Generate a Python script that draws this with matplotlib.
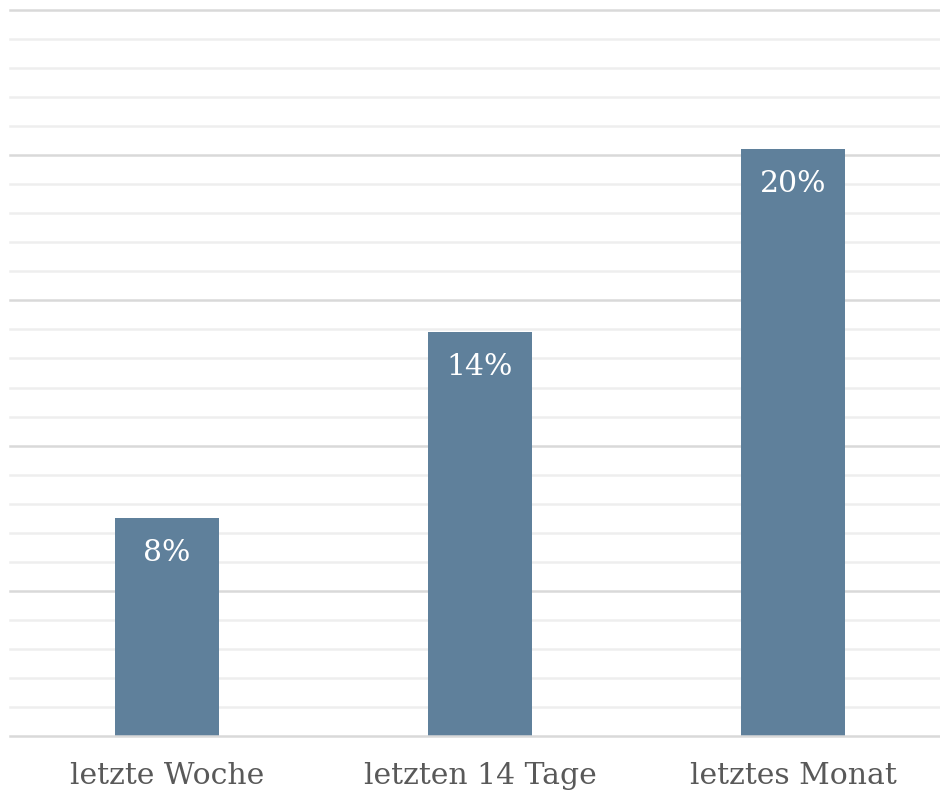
import matplotlib.pyplot as plt
import numpy as np

categories = ["letzte Woche", "letzten 14 Tage", "letztes Monat"]
values = [7.5, 13.9, 20.2]
labels = ["8%", "14%", "20%"]

W, H = 940, 792
fig = plt.figure(figsize=(W / 100, H / 100), dpi=100)
ax = fig.add_axes([10 / W, (H - 736) / H, 930 / W, 726 / H])

x = np.arange(len(categories))
ax.bar(x, values, width=0.333, color="#5f809b", zorder=3)

ax.set_xlim(-157 / 313, 773 / 313)
ax.set_ylim(0, 25)

for yv in range(1, 26):
    major = yv % 5 == 0
    ax.axhline(yv, color="#d9d9d9" if major else "#eeeeee", lw=1.8, zorder=1,
               clip_on=False)
ax.axhline(0, color="#d9d9d9", lw=1.8, zorder=4, clip_on=False)

for xi, v, lab in zip(x, values, labels):
    ax.annotate(lab, (xi, v), xytext=(0, -25), textcoords="offset points",
                ha="center", va="center", color="white", fontsize=21.5,
                family="DejaVu Serif", zorder=5)

ax.set_xticks(x)
ax.set_xticklabels(categories, fontsize=21.5, family="DejaVu Serif", color="#595959")
ax.tick_params(axis="x", length=0, pad=19)
ax.set_yticks([])
for s in ax.spines.values():
    s.set_visible(False)

fig.savefig("out.png", dpi=100)
